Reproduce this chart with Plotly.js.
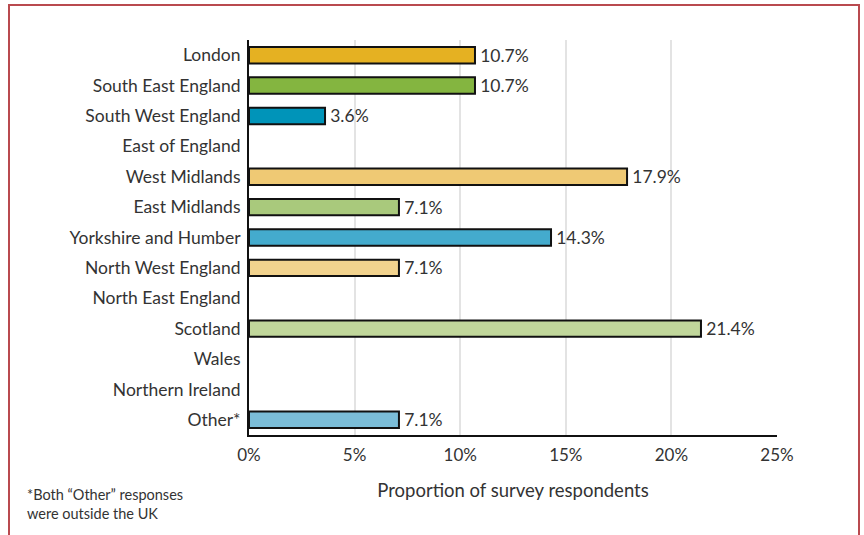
<!DOCTYPE html>
<html>
<head>
<meta charset="utf-8">
<script src="https://cdn.plot.ly/plotly-3.0.1.min.js"></script>
<style>
html,body{margin:0;padding:0;background:#fff;}
#wrap{position:relative;width:864px;height:535px;}
#frame{position:absolute;left:8px;top:4px;width:852px;height:540px;border:2px solid #b94a4f;box-sizing:border-box;pointer-events:none;}
#chart{position:absolute;left:0;top:0;width:864px;height:535px;}
</style>
</head>
<body>
<div id="wrap">
<div id="chart"></div>
<div id="frame"></div>
</div>
<script>
const regions = ["London","South East England","South West England","East of England","West Midlands","East Midlands","Yorkshire and Humber","North West England","North East England","Scotland","Wales","Northern Ireland","Other*"];
const shares = [10.7,10.7,3.6,0,17.9,7.1,14.3,7.1,0,21.4,0,0,7.1];
const barColors = ["#e5b122","#84b540","#0094b9","#e5b122","#efc974","#a9c97c","#44abcd","#f2d38e","#84b540","#c1d79b","#0094b9","#efc974","#7bbdd8"];
const xTickVals = [0,5,10,15,20,25];
const xTickText = ["0%","5%","10%","15%","20%","25%"];
const labels = shares.map(v => v > 0 ? "\u2009" + v.toFixed(1) + "%" : "");
const outlineWidths = shares.map(v => v > 0 ? 2 : 0);
const font = "Lato, 'Open Sans', sans-serif";

const trace = {
  type: "bar",
  orientation: "h",
  y: regions,
  x: shares,
  text: labels,
  textposition: "outside",
  constraintext: "none",
  cliponaxis: false,
  textfont: {family: font, size: 17.5, color: "#333"},
  marker: {color: barColors, line: {color: "#111", width: outlineWidths}},
  width: 0.54,
  hoverinfo: "none"
};

const layout = {
  width: 864, height: 535,
  margin: {l: 249, r: 87, t: 40, b: 100},
  paper_bgcolor: "#fff", plot_bgcolor: "#fff",
  showlegend: false,
  font: {family: font, color: "#333"},
  xaxis: {
    range: [0, 25],
    tickvals: xTickVals, ticktext: xTickText,
    showgrid: true, gridcolor: "#e3e3e3", gridwidth: 2,
    zeroline: false,
    showline: true, linecolor: "#111", linewidth: 2,
    tickfont: {family: font, size: 17, color: "#333"},
    ticks: "outside", ticklen: 4, tickcolor: "rgba(0,0,0,0)",
    title: {text: "Proportion of survey respondents", font: {family: font, size: 18.5, color: "#333"}, standoff: 20}
  },
  yaxis: {
    type: "category",
    autorange: "reversed",
    showline: true, linecolor: "#111", linewidth: 2,
    showgrid: false, zeroline: false,
    ticks: "", ticklabelstandoff: 3,
    tickfont: {family: font, size: 17.5, color: "#333"}
  },
  annotations: [{
    xref: "paper", yref: "paper",
    x: -(249 - 25) / 528, y: -0.123,
    xanchor: "left", yanchor: "top",
    align: "left",
    showarrow: false,
    text: "*Both “Other” responses<br>were outside the UK",
    font: {family: font, size: 14.5, color: "#333"}
  }]
};

Plotly.newPlot("chart", [trace], layout, {displayModeBar: false, staticPlot: true});
</script>
</body>
</html>
